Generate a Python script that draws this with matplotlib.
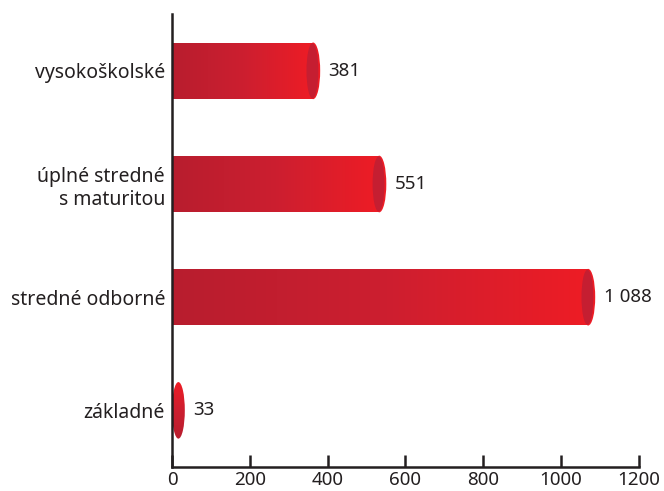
import numpy as np
import matplotlib.pyplot as plt
from matplotlib.patches import Ellipse, Rectangle
from matplotlib.colors import LinearSegmentedColormap

plt.rcParams['font.family'] = ['Noto Sans', 'DejaVu Sans']

categories = ['základné', 'stredné odborné', 'úplné stredné\ns maturitou', 'vysokoškolské']
values = [33, 1088, 551, 381]
value_labels = ['33', '1 088', '551', '381']

dark = '#b81d2e'
bright = '#ee1c25'
cap_color = '#c51e31'
cmap = LinearSegmentedColormap.from_list('barred', [dark, '#cc1f30', bright])

fig = plt.figure(figsize=(6.64, 4.91), dpi=100)
ax = fig.add_axes([0.259, 0.049, 0.703, 0.922])

h = 0.5
capw = 36  # width of the end ellipse in data units
grad = np.linspace(0, 1, 256).reshape(1, -1)

for i, v in enumerate(values):
    y0 = i - h / 2
    if v > capw:
        xc = v - capw / 2
        body = Rectangle((0, y0), xc, h, transform=ax.transData)
        im = ax.imshow(grad, cmap=cmap, extent=(0, xc, y0, y0 + h),
                       aspect='auto', interpolation='bicubic', zorder=2)
        im.set_clip_path(body)
        # outer rounded end, then the darker end face
        ax.add_patch(Ellipse((xc, i), capw, h, color=bright, lw=0, zorder=3))
        ax.add_patch(Ellipse((xc - 2, i), capw * 0.85, h * 0.97, color=cap_color, lw=0, zorder=4))
    else:
        ell = Ellipse((v / 2, i), v, h, transform=ax.transData)
        im = ax.imshow(grad.T[::-1], cmap=cmap, extent=(0, v, y0, y0 + h),
                       aspect='auto', interpolation='bicubic', zorder=2)
        im.set_clip_path(ell)
    ax.annotate(value_labels[i], (v, i), xytext=(6, 0), textcoords='offset points',
                ha='left', va='center', fontsize=13.5, color='#231f20')

ax.set_xlim(0, 1200)
ax.set_ylim(-0.5, 3.5)
ax.set_xticks(np.arange(0, 1201, 200))
ax.set_yticks(range(len(categories)))
ax.set_yticklabels(categories, fontsize=14, color='#231f20', ha='right')
for lbl in ax.get_yticklabels():
    lbl.set_multialignment('right')
ax.tick_params(axis='x', direction='in', length=9, width=1.8, color='#231f20',
               labelsize=13.5, labelcolor='#231f20', pad=3)
ax.tick_params(axis='y', length=0, pad=5)
for s in ['top', 'right']:
    ax.spines[s].set_visible(False)
for s in ['left', 'bottom']:
    ax.spines[s].set_linewidth(1.8)
    ax.spines[s].set_color('#231f20')

plt.savefig('out.png', dpi=100)
